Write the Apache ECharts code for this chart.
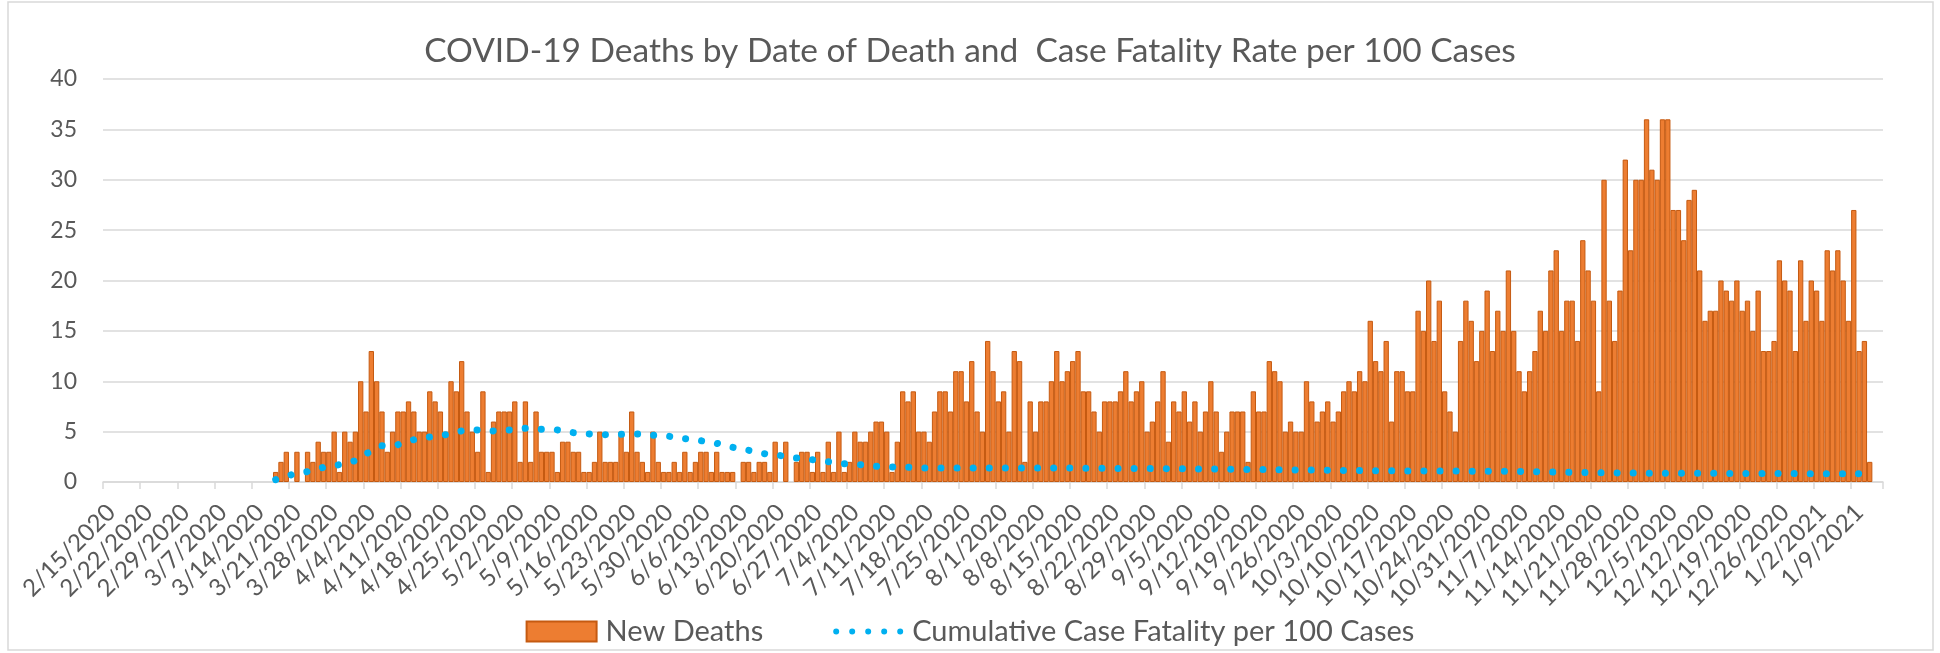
<!DOCTYPE html>
<html>
  <head>
    <meta charset="utf-8" />
    <title>COVID-19 Deaths by Date of Death</title>
    <script src="https://cdn.jsdelivr.net/npm/echarts@6/dist/echarts.min.js"></script>
    <style>
      html, body { margin: 0; background: #fff; }
      #main { width: 1940px; height: 653px; }
    </style>
  </head>
  <body>
    <div id="main"></div>
    <script type="text/javascript">
      // daily axis runs 2/15/2020 .. 1/14/2021
      var firstDay = new Date(2020, 1, 15);
      var dayCount = 335;

      // new deaths per day, from 2/15/2020
      var newDeaths = [
        0, 0, 0, 0, 0, 0, 0, 0, 0, 0, 0, 0, 0, 0, 0, 0,
        0, 0, 0, 0, 0, 0, 0, 0, 0, 0, 0, 0, 0, 0, 0, 0,
        1, 2, 3, 0, 3, 0, 3, 2, 4, 3,
        3, 5, 1, 5, 4, 5, 10, 7, 13, 10,
        7, 3, 5, 7, 7, 8, 7, 5, 5, 9,
        8, 7, 5, 10, 9, 12, 7, 5, 3, 9,
        1, 6, 7, 7, 7, 8, 2, 8, 2, 7,
        3, 3, 3, 1, 4, 4, 3, 3, 1, 1,
        2, 5, 2, 2, 2, 5, 3, 7, 3, 2,
        1, 5, 2, 1, 1, 2, 1, 3, 1, 2,
        3, 3, 1, 3, 1, 1, 1, 0, 2, 2,
        1, 2, 2, 1, 4, 0, 4, 0, 2, 3,
        3, 1, 3, 1, 4, 1, 5, 1, 2, 5,
        4, 4, 5, 6, 6, 5, 1, 4, 9, 8,
        9, 5, 5, 4, 7, 9, 9, 7, 11, 11,
        8, 12, 7, 5, 14, 11, 8, 9, 5, 13,
        12, 2, 8, 5, 8, 8, 10, 13, 10, 11,
        12, 13, 9, 9, 7, 5, 8, 8, 8, 9,
        11, 8, 9, 10, 5, 6, 8, 11, 4, 8,
        7, 9, 6, 8, 5, 7, 10, 7, 3, 5,
        7, 7, 7, 2, 9, 7, 7, 12, 11, 10,
        5, 6, 5, 5, 10, 8, 6, 7, 8, 6,
        7, 9, 10, 9, 11, 10, 16, 12, 11, 14,
        6, 11, 11, 9, 9, 17, 15, 20, 14, 18,
        9, 7, 5, 14, 18, 16, 12, 15, 19, 13,
        17, 15, 21, 15, 11, 9, 11, 13, 17, 15,
        21, 23, 15, 18, 18, 14, 24, 21, 18, 9,
        30, 18, 14, 19, 32, 23, 30, 30, 36, 31,
        30, 36, 36, 27, 27, 24, 28, 29, 21, 16,
        17, 17, 20, 19, 18, 20, 17, 18, 15, 19,
        13, 13, 14, 22, 20, 19, 13, 22, 16, 20,
        19, 16, 23, 21, 23, 20, 16, 27, 13, 14,
        2, 0, 0
      ];

      // cumulative case fatality per 100 cases, starts on 3/18/2020 (day 32)
      var rateStartDay = 32;
      var fatalityRate = [
        0.23, 0.40, 0.57, 0.73, 0.83, 0.93, 1.03, 1.17, 1.32, 1.46,
        1.55, 1.63, 1.72, 1.85, 1.98, 2.12, 2.45, 2.80, 3.05, 3.35,
        3.60, 3.63, 3.67, 3.71, 3.88, 4.04, 4.20, 4.29, 4.38, 4.47,
        4.55, 4.62, 4.70, 4.83, 4.96, 5.07, 5.10, 5.14, 5.17, 5.13,
        5.10, 5.07, 5.10, 5.14, 5.17, 5.22, 5.28, 5.33, 5.30, 5.26,
        5.23, 5.21, 5.19, 5.17, 5.08, 4.99, 4.90, 4.86, 4.81, 4.77,
        4.75, 4.72, 4.70, 4.71, 4.72, 4.73, 4.75, 4.76, 4.77, 4.73,
        4.68, 4.64, 4.61, 4.57, 4.54, 4.46, 4.38, 4.30, 4.23, 4.17,
        4.10, 4.01, 3.93, 3.84, 3.71, 3.57, 3.44, 3.34, 3.25, 3.15,
        3.04, 2.92, 2.81, 2.75, 2.68, 2.62, 2.54, 2.46, 2.38, 2.33,
        2.27, 2.22, 2.15, 2.09, 2.02, 1.95, 1.89, 1.82, 1.79, 1.75,
        1.72, 1.67, 1.61, 1.56, 1.54, 1.51, 1.49, 1.48, 1.47, 1.46,
        1.44, 1.41, 1.39, 1.39, 1.39, 1.39, 1.39, 1.39, 1.39, 1.39,
        1.39, 1.39, 1.39, 1.39, 1.39, 1.39, 1.39, 1.39, 1.39, 1.39,
        1.39, 1.39, 1.39, 1.39, 1.39, 1.39, 1.39, 1.39, 1.39, 1.38,
        1.38, 1.38, 1.37, 1.37, 1.37, 1.36, 1.36, 1.36, 1.35, 1.35,
        1.35, 1.34, 1.34, 1.34, 1.34, 1.33, 1.33, 1.33, 1.32, 1.32,
        1.32, 1.31, 1.31, 1.30, 1.30, 1.29, 1.29, 1.28, 1.28, 1.27,
        1.27, 1.26, 1.25, 1.25, 1.24, 1.23, 1.23, 1.22, 1.21, 1.21,
        1.20, 1.20, 1.19, 1.19, 1.18, 1.18, 1.17, 1.17, 1.16, 1.16,
        1.15, 1.15, 1.14, 1.14, 1.13, 1.13, 1.13, 1.12, 1.12, 1.12,
        1.11, 1.11, 1.11, 1.10, 1.10, 1.10, 1.10, 1.09, 1.09, 1.09,
        1.09, 1.08, 1.08, 1.08, 1.08, 1.07, 1.07, 1.07, 1.07, 1.06,
        1.06, 1.06, 1.06, 1.05, 1.05, 1.04, 1.03, 1.02, 1.01, 1.00,
        0.99, 0.98, 0.97, 0.96, 0.95, 0.94, 0.94, 0.93, 0.93, 0.92,
        0.92, 0.91, 0.91, 0.90, 0.90, 0.89, 0.89, 0.89, 0.88, 0.88,
        0.88, 0.87, 0.87, 0.87, 0.87, 0.86, 0.86, 0.86, 0.86, 0.86,
        0.86, 0.86, 0.85, 0.85, 0.85, 0.85, 0.85, 0.85, 0.84, 0.84,
        0.84, 0.84, 0.84, 0.84, 0.84, 0.84, 0.83, 0.83, 0.83, 0.83,
        0.83, 0.83, 0.83, 0.83, 0.83, 0.83, 0.83, 0.83, 0.82, 0.82,
        0.82
      ];

      var dates = [];
      for (var i = 0; i < dayCount; i++) {
        var d = new Date(firstDay.getFullYear(), firstDay.getMonth(), firstDay.getDate() + i);
        dates.push((d.getMonth() + 1) + "/" + d.getDate() + "/" + d.getFullYear());
      }

      // days with no deaths get no bar at all (no outline on the axis)
      var barData = newDeaths.map(function (v) {
        return v === 0 ? "-" : v;
      });

      var rateData = [];
      for (var i = 0; i < dayCount; i++) {
        var v = fatalityRate[i - rateStartDay];
        rateData.push(v === undefined ? "-" : v);
      }

      var textColor = "#595959";
      var gridColor = "#d9d9d9";
      var fontName = "Lato";

      // five round dots, used as the legend icon of the dotted line
      var dotsIcon =
        "path://M0,3a3,3 0 1,0 6,0a3,3 0 1,0 -6,0Z" +
        "M16,3a3,3 0 1,0 6,0a3,3 0 1,0 -6,0Z" +
        "M32,3a3,3 0 1,0 6,0a3,3 0 1,0 -6,0Z" +
        "M48,3a3,3 0 1,0 6,0a3,3 0 1,0 -6,0Z" +
        "M64,3a3,3 0 1,0 6,0a3,3 0 1,0 -6,0Z";

      var myChart = echarts.init(document.getElementById("main"));
      var option = {
        animation: false,
        backgroundColor: "#fff",
        title: {
          text: "COVID-19 Deaths by Date of Death and  Case Fatality Rate per 100 Cases",
          left: "center",
          top: 29,
          textStyle: { color: textColor, fontFamily: fontName, fontSize: 33.5, fontWeight: "normal" },
        },
        legend: {
          top: 612,
          left: "center",
          itemWidth: 70,
          itemHeight: 20,
          itemGap: 70,
          textStyle: { color: textColor, fontFamily: fontName, fontSize: 29, padding: [0, 0, 0, 4] },
          data: [
            { name: "New Deaths", icon: "rect" },
            { name: "Cumulative Case Fatality per 100 Cases", icon: dotsIcon, itemStyle: { color: "#00B0F0" } },
          ],
        },
        grid: { left: 103, right: 57, top: 79, bottom: 171 },
        xAxis: {
          type: "category",
          data: dates,
          boundaryGap: true,
          axisLine: { lineStyle: { color: gridColor, width: 1.5 } },
          axisTick: { show: true, interval: 6, length: 7, lineStyle: { color: gridColor, width: 1.5 } },
          axisLabel: {
            interval: 6,
            rotate: 45,
            margin: 32,
            padding: [8, -8, -8, 0],
            color: textColor,
            fontFamily: fontName,
            fontSize: 24,
          },
        },
        yAxis: {
          type: "value",
          min: 0,
          max: 40,
          interval: 5,
          axisLine: { show: false },
          axisTick: { show: false },
          axisLabel: { color: textColor, fontFamily: fontName, fontSize: 23, margin: 26 },
          splitLine: { lineStyle: { color: gridColor, width: 1.5 } },
        },
        graphic: [
          {
            type: "rect",
            shape: { x: 8, y: 2, width: 1925, height: 648 },
            style: { fill: null, stroke: gridColor, lineWidth: 1.5 },
            silent: true,
          },
        ],
        series: [
          {
            name: "New Deaths",
            type: "bar",
            data: barData,
            barCategoryGap: "0%",
            itemStyle: { color: "#ED7D31", borderColor: "#C55A11", borderWidth: 1 },
          },
          {
            name: "Cumulative Case Fatality per 100 Cases",
            type: "line",
            data: rateData,
            symbol: "none",
            showSymbol: false,
            itemStyle: { color: "#00B0F0" },
            lineStyle: { color: "#00B0F0", width: 7, type: [0.1, 16], cap: "round" },
            z: 3,
          },
        ],
      };
      myChart.setOption(option);
    </script>
  </body>
</html>
